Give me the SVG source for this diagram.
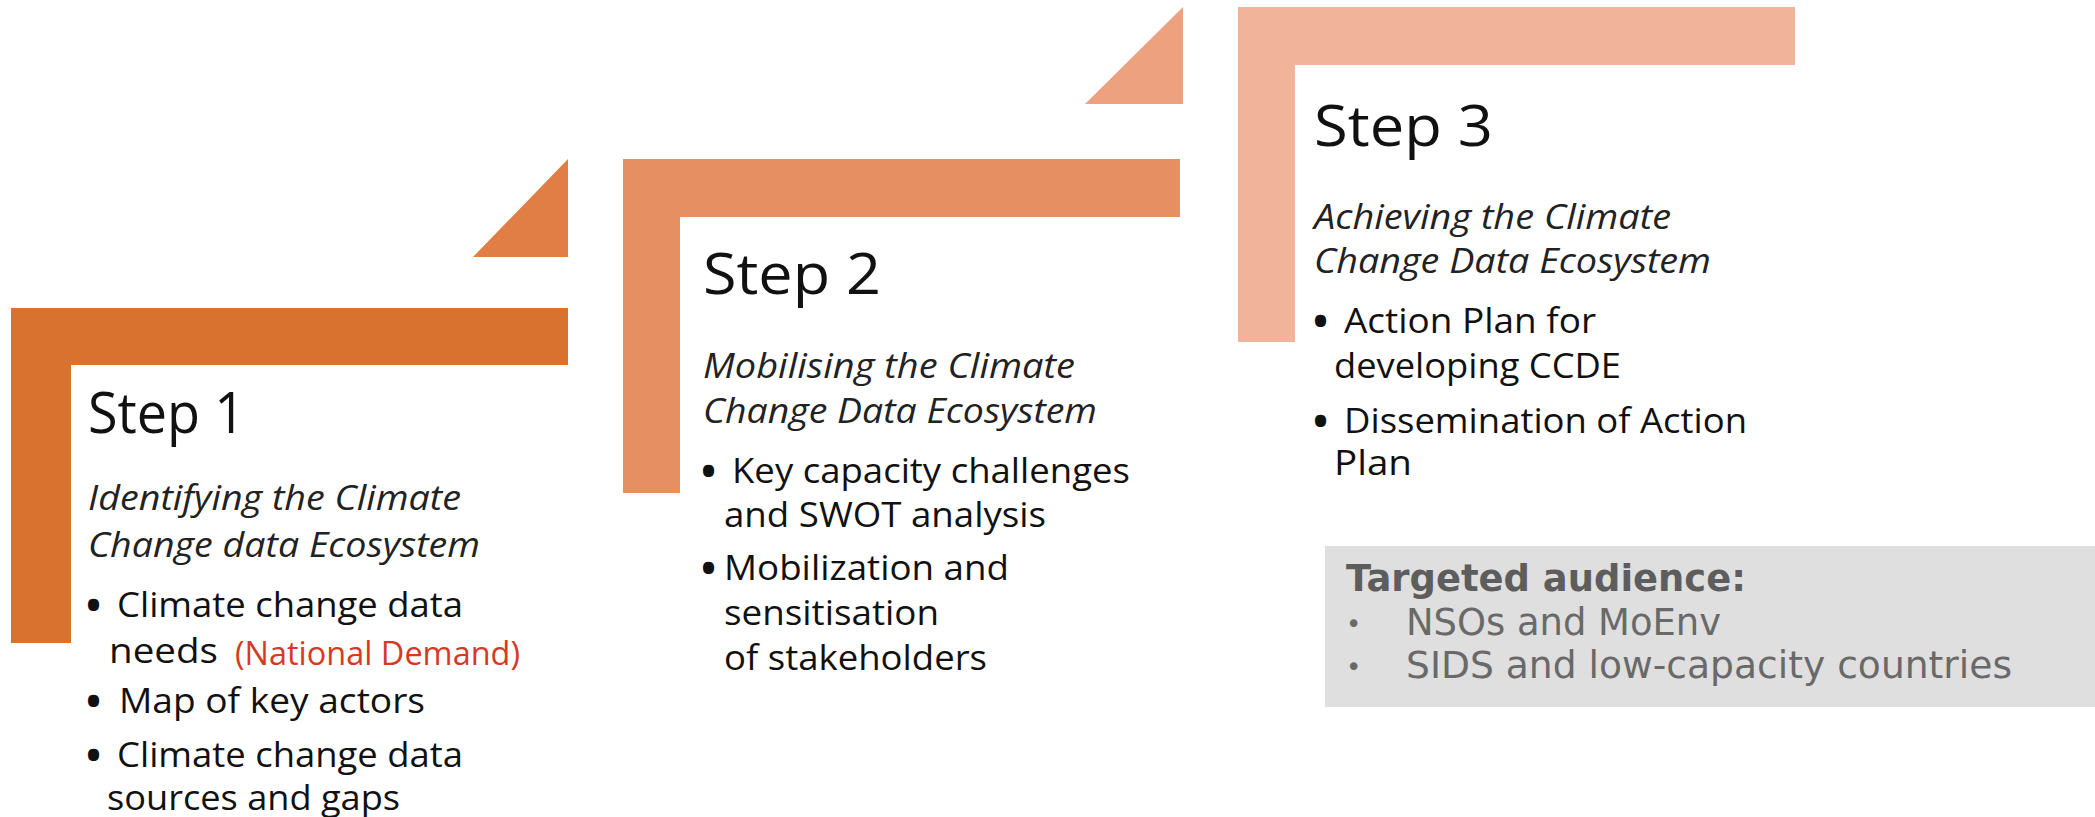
<svg xmlns="http://www.w3.org/2000/svg" width="2095" height="817" viewBox="0 0 2095 817">
<style>
text{font-family:"Open Sans","Noto Sans","Liberation Sans",sans-serif;fill:#111}
.step{font-size:56px}
.it{font-size:35px;font-style:italic;fill:#222}
.bl{font-size:34px}
.dot{font-size:40px;font-weight:bold}
.red{font-size:32px;fill:#D63A24}
.ta{font-family:"DejaVu Sans","Liberation Sans",sans-serif;font-size:38px;font-weight:bold;fill:#5d5d5d}
.ti{font-family:"DejaVu Sans","Liberation Sans",sans-serif;font-size:37px;fill:#696969}
.td{font-family:"DejaVu Sans","Liberation Sans",sans-serif;font-size:26px;fill:#696969}
</style>
<rect width="2095" height="817" fill="#fff"/>
<g id="connectors">
<polygon points="473,257 568,257 568,159" fill="#E07E46"/>
<polygon points="1085,104 1183,104 1183,7" fill="#EDA17E"/>
</g>
<g id="step1">
<path d="M11,308 H568 V365 H71 V643 H11 Z" fill="#D9722E"/>
<text class="step" x="88" y="433" textLength="157" lengthAdjust="spacingAndGlyphs">Step 1</text>
<text class="it" x="88" y="510" textLength="373" lengthAdjust="spacingAndGlyphs">Identifying the Climate</text>
<text class="it" x="88" y="557" textLength="392" lengthAdjust="spacingAndGlyphs">Change data  Ecosystem</text>
<text class="dot" x="86" y="619">•</text>
<text class="bl" x="117" y="617" textLength="346" lengthAdjust="spacingAndGlyphs">Climate change data</text>
<text class="bl" x="109" y="663" textLength="109" lengthAdjust="spacingAndGlyphs">needs</text>
<text class="red" x="235" y="665" textLength="285" lengthAdjust="spacingAndGlyphs">(National Demand)</text>
<text class="dot" x="86" y="715">•</text>
<text class="bl" x="119" y="713" textLength="306" lengthAdjust="spacingAndGlyphs">Map of key actors</text>
<text class="dot" x="86" y="769">•</text>
<text class="bl" x="117" y="767" textLength="346" lengthAdjust="spacingAndGlyphs">Climate change data</text>
<text class="bl" x="107" y="810" textLength="293" lengthAdjust="spacingAndGlyphs">sources and gaps</text>
</g>
<g id="step2">
<path d="M623,159 H1180 V217 H680 V493 H623 Z" fill="#E68F63"/>
<text class="step" x="703" y="294" textLength="178" lengthAdjust="spacingAndGlyphs">Step 2</text>
<text class="it" x="703" y="378" textLength="372" lengthAdjust="spacingAndGlyphs">Mobilising the Climate</text>
<text class="it" x="703" y="423" textLength="394" lengthAdjust="spacingAndGlyphs">Change Data  Ecosystem</text>
<text class="dot" x="701" y="485">•</text>
<text class="bl" x="732" y="483" textLength="398" lengthAdjust="spacingAndGlyphs">Key capacity challenges</text>
<text class="bl" x="724" y="527" textLength="322" lengthAdjust="spacingAndGlyphs">and SWOT analysis</text>
<text class="dot" x="701" y="582">•</text>
<text class="bl" x="724" y="580" textLength="285" lengthAdjust="spacingAndGlyphs">Mobilization and</text>
<text class="bl" x="724" y="625" textLength="215" lengthAdjust="spacingAndGlyphs">sensitisation</text>
<text class="bl" x="724" y="670" textLength="263" lengthAdjust="spacingAndGlyphs">of stakeholders</text>
</g>
<g id="step3">
<path d="M1238,7 H1795 V65 H1295 V342 H1238 Z" fill="#F2B39B"/>
<text class="step" x="1314" y="146" textLength="179" lengthAdjust="spacingAndGlyphs">Step 3</text>
<text class="it" x="1314" y="229" textLength="357" lengthAdjust="spacingAndGlyphs">Achieving the Climate</text>
<text class="it" x="1314" y="273" textLength="397" lengthAdjust="spacingAndGlyphs">Change Data  Ecosystem</text>
<text class="dot" x="1313" y="335">•</text>
<text class="bl" x="1344" y="333" textLength="252" lengthAdjust="spacingAndGlyphs">Action Plan for</text>
<text class="bl" x="1334" y="378" textLength="287" lengthAdjust="spacingAndGlyphs">developing CCDE</text>
<text class="dot" x="1313" y="435">•</text>
<text class="bl" x="1344" y="433" textLength="403" lengthAdjust="spacingAndGlyphs">Dissemination of Action</text>
<text class="bl" x="1334" y="475" textLength="78" lengthAdjust="spacingAndGlyphs">Plan</text>
</g>
<g id="audience">
<rect x="1325" y="546" width="770" height="161" fill="#DFDFDF"/>
<text class="ta" x="1346" y="591" textLength="400" lengthAdjust="spacingAndGlyphs">Targeted audience:</text>
<text class="td" x="1346" y="633">•</text>
<text class="ti" x="1406" y="635" textLength="315" lengthAdjust="spacingAndGlyphs">NSOs and MoEnv</text>
<text class="td" x="1346" y="676">•</text>
<text class="ti" x="1406" y="678" textLength="606" lengthAdjust="spacingAndGlyphs">SIDS and low-capacity countries</text>
</g>
</svg>
